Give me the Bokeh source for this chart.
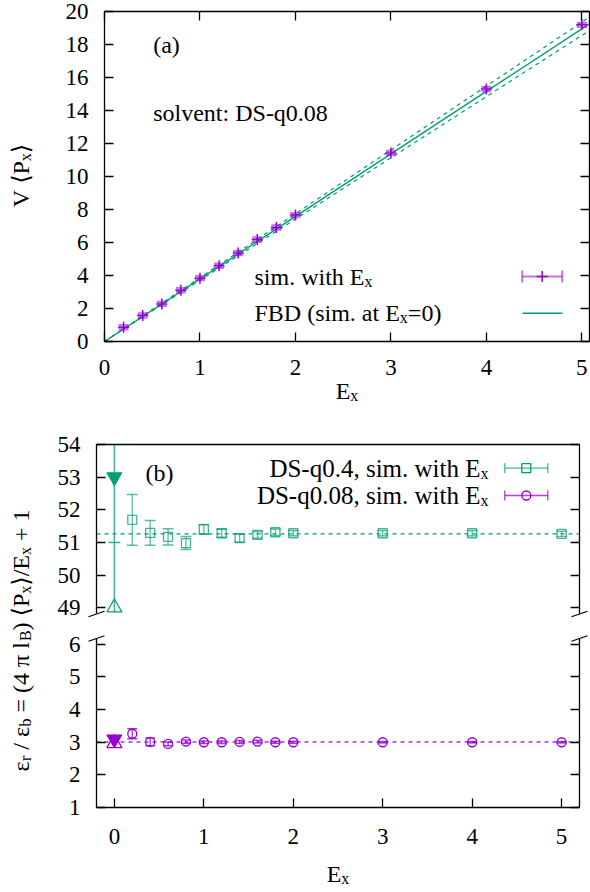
import math
from bokeh.plotting import figure
from bokeh.models import Range1d, LinearAxis, FixedTicker, Label
from bokeh.embed import file_html
from bokeh.resources import INLINE

# ---------------- data ----------------
# panel (a): V <P_x> versus E_x (solvent DS-q0.08)
ex_a = [0.2, 0.4, 0.6, 0.8, 1.0, 1.2, 1.4, 1.6, 1.8, 2.0, 3.0, 4.0, 5.0]
vpx_a = [0.87, 1.58, 2.28, 3.11, 3.84, 4.59, 5.37, 6.18, 6.91, 7.66, 11.42, 15.30, 19.19]
vpx_err_a = [0.12, 0.12, 0.12, 0.12, 0.12, 0.12, 0.12, 0.12, 0.12, 0.12, 0.12, 0.12, 0.12]
# FBD prediction (sim. at E_x = 0): straight line through the origin and its band
fbd_x = [0.0, 5.08]
fbd_mid = [0.0, 19.25]
fbd_lo = [0.0, 18.85]
fbd_hi = [0.0, 19.66]

# panel (b): eps_r / eps_b
ex_b = [0.2, 0.4, 0.6, 0.8, 1.0, 1.2, 1.4, 1.6, 1.8, 2.0, 3.0, 4.0, 5.0]
eps_q04 = [51.69, 51.29, 51.17, 50.98, 51.40, 51.28, 51.13, 51.23, 51.31, 51.28, 51.28, 51.28, 51.26]
eps_q04_err = [0.78, 0.38, 0.25, 0.20, 0.15, 0.12, 0.12, 0.10, 0.10, 0.08, 0.08, 0.08, 0.08]
eps_q008 = [3.26, 3.01, 2.95, 3.02, 3.00, 3.00, 3.01, 3.02, 3.00, 3.00, 3.00, 3.00, 3.00]
eps_q008_err = [0.15, 0.12, 0.06, 0.05, 0.04, 0.04, 0.04, 0.04, 0.03, 0.03, 0.02, 0.02, 0.02]
# E_x = 0 estimates (visible extent of the bars)
ex0 = [0.0]
eps0_q04 = [51.0]
eps0_q04_lo = [48.85]
eps0_q04_hi = [54.0]
eps0_q04_up = [53.0]
eps0_q04_dn = [49.0]
eps0_q008 = [3.03]
eps0_q008_lo = [2.97]
eps0_q008_hi = [3.09]
eps0_q008_up = [3.09]
eps0_q008_dn = [2.97]
# horizontal reference lines
ref_x_b = [-0.2, 5.2]
ref_q04 = [51.26, 51.26]
ref_q008 = [3.01, 3.01]

x_ticks_a = [0, 1, 2, 3, 4, 5]
y_ticks_a = [0, 2, 4, 6, 8, 10, 12, 14, 16, 18, 20]
x_ticks_b = [0, 1, 2, 3, 4, 5]
y_ticks_b_hi = [49, 50, 51, 52, 53, 54]
y_ticks_b_lo = [1, 2, 3, 4, 5, 6]

# axis limits of the panels
XA = (0.0, 5.08)
YA = (0.0, 20.0)
XB = (-0.2, 5.2)
YB = (48.82, 54.0)
YC = (1.0, 6.18)

# ---------------- style / layout ----------------
PURPLE = "#9400D3"
GREEN = "#009E73"
FONT = "Liberation Serif"
BRACKET_FONT = "DejaVu Sans"
FS = 24
SFS = 16
TICK_FS = "23px"
SUB_SHIFT = 5
BASE_FIX = -6          # correction of the rendered baseline position
W, H = 590, 892

# pixel boxes of the panels (left, right, top, bottom)
BOX_A = (104, 589, 11, 341)
BOX_B = (96, 579, 444, 613)
BOX_C = (96, 579, 638, 807)

TW = {' ': 250, '(': 333, ')': 333, '+': 564, ',': 250, '-': 333, '.': 250, '/': 278,
      ':': 278, '=': 564, 'B': 667, 'D': 722, 'E': 611, 'F': 556, 'P': 556, 'S': 556,
      'V': 722, 'a': 444, 'b': 500, 'e': 444, 'h': 500, 'i': 278, 'l': 278, 'm': 778,
      'n': 500, 'o': 500, 'q': 500, 'r': 333, 's': 389, 't': 278, 'v': 500, 'w': 722,
      'x': 500, 'ε': 439, 'π': 549, '⟨': 390, '⟩': 390}


def tw(s, size):
    return sum(TW.get(c, 500) for c in s) * size / 1000.0


def xr_for(box, lim):
    L, R = box[0], box[1]
    s = (R - L) / (lim[1] - lim[0])
    return Range1d(lim[0] - L / s, lim[1] + (W - R) / s)


def yr_for(box, lim):
    T, B = box[2], box[3]
    s = (B - T) / (lim[1] - lim[0])
    return Range1d(lim[0] - (H - B) / s, lim[1] + T / s)


# one canvas; default ranges are page pixels (y grows downward)
p = figure(width=W, height=H, x_range=Range1d(0, W), y_range=Range1d(H, 0),
           output_backend="svg", toolbar_location=None,
           x_axis_location=None, y_axis_location=None,
           min_border_left=0, min_border_right=0, min_border_top=0, min_border_bottom=0)
p.outline_line_color = None
p.grid.visible = False
p.background_fill_color = "white"
p.border_fill_color = "white"
p.extra_x_ranges = {"ax": xr_for(BOX_A, XA), "bx": xr_for(BOX_B, XB)}
p.extra_y_ranges = {"ay": yr_for(BOX_A, YA), "by": yr_for(BOX_B, YB), "cy": yr_for(BOX_C, YC)}


def add_axis(side, xname, yname, loc, bounds, ticks, labels=True, standoff=16, tick_len=9):
    ax = LinearAxis(ticker=FixedTicker(ticks=ticks, minor_ticks=[]),
                    x_range_name=xname, y_range_name=yname,
                    fixed_location=loc, bounds=bounds)
    ax.axis_line_color = "black"
    ax.axis_line_width = 1.3
    ax.major_tick_line_color = "black"
    ax.major_tick_line_width = 1.3
    ax.major_tick_in = tick_len
    ax.major_tick_out = 0
    ax.minor_tick_line_color = None
    ax.major_label_text_font = FONT
    if labels:
        ax.major_label_text_color = "black"
        ax.major_label_text_font_size = TICK_FS
        ax.major_label_standoff = standoff
    else:
        ax.major_label_text_color = None
        ax.major_label_text_font_size = "0px"
        ax.major_label_standoff = 0
    p.add_layout(ax, side)
    return ax


def rich(x, y, pieces, angle=0.0, align="left", fs=FS, sfs=SFS):
    widths = [tw(t, sfs if k == "s" else fs) for t, k in pieces]
    total = sum(widths)
    pos = {"left": 0.0, "right": -total, "center": -total / 2.0}[align]
    for (t, kind), w in zip(pieces, widths):
        size = sfs if kind == "s" else fs
        font = BRACKET_FONT if kind == "b" else FONT
        shift = SUB_SHIFT if kind == "s" else 0
        stripped = t.lstrip(" ")
        lead = tw(t[:len(t) - len(stripped)], size)
        if angle == 0.0:
            px, py = x + pos + lead, y + shift + BASE_FIX
        else:
            px, py = x + shift + BASE_FIX, y - pos - lead
        p.add_layout(Label(x=px, y=py, text=stripped, text_font=font,
                           text_font_size=f"{size}px", text_color="black",
                           text_baseline="alphabetic", text_align="left",
                           angle=angle))
        pos += w


def errorbars(xs, ys, errs, xname, yname, color, alpha, cap, lw, cap_lw):
    lo = [v - e for v, e in zip(ys, errs)]
    hi = [v + e for v, e in zip(ys, errs)]
    p.segment(x0=xs, y0=lo, x1=xs, y1=hi, line_color=color, line_alpha=alpha,
              line_width=lw, x_range_name=xname, y_range_name=yname)
    p.scatter(xs + xs, lo + hi, marker="dash", size=cap, line_color=color,
              line_alpha=alpha, line_width=cap_lw, x_range_name=xname, y_range_name=yname)


# ================= panel (a) =================
add_axis("below", "ax", "ay", YA[0], XA, x_ticks_a, labels=True, standoff=18)
add_axis("left", "ax", "ay", XA[0], YA, y_ticks_a, labels=True, standoff=16)
add_axis("above", "ax", "ay", YA[1], XA, x_ticks_a, labels=False)
add_axis("right", "ax", "ay", XA[1], YA, y_ticks_a, labels=False)

p.line(fbd_x, fbd_hi, line_color=GREEN, line_width=1.2, line_dash="4 4", x_range_name="ax", y_range_name="ay")
p.line(fbd_x, fbd_lo, line_color=GREEN, line_width=1.2, line_dash="4 4", x_range_name="ax", y_range_name="ay")
p.line(fbd_x, fbd_mid, line_color=GREEN, line_width=1.4, x_range_name="ax", y_range_name="ay")
errorbars(ex_a, vpx_a, vpx_err_a, "ax", "ay", PURPLE, 0.55, 10, 1.5, 2.5)
p.scatter(ex_a, vpx_a, marker="cross", size=11, line_color=PURPLE, line_width=1.5,
          x_range_name="ax", y_range_name="ay")

rich(152.7, 50, [("(a)", "n")])
rich(152.7, 118.5, [("solvent: DS-q0.08", "n")])
rich(254, 282, [("sim. with E", "n"), ("x", "s")])
rich(254, 318, [("FBD (sim. at E", "n"), ("x", "s"), ("=0)", "n")])
rich(346.5, 396, [("E", "n"), ("x", "s")], align="center")
rich(26, 175, [("V ", "n"), ("⟨", "b"), ("P", "n"), ("x", "s"), ("⟩", "b")],
     angle=math.pi / 2, align="center")

# key samples (a)
ly1, ly2 = 276.0, 312.7
p.segment(x0=[521.7], y0=[ly1], x1=[561.7], y1=[ly1], line_color=PURPLE, line_alpha=0.55, line_width=2)
p.segment(x0=[521.7, 561.7], y0=[ly1 - 6, ly1 - 6], x1=[521.7, 561.7], y1=[ly1 + 6, ly1 + 6],
          line_color=PURPLE, line_alpha=0.55, line_width=2)
p.scatter([541.7], [ly1], marker="cross", size=11, line_color=PURPLE, line_width=1.5)
p.segment(x0=[522], y0=[ly2], x1=[562], y1=[ly2], line_color=GREEN, line_width=1.4)

# ================= panel (b), upper part =================
add_axis("left", "bx", "by", XB[0], YB, y_ticks_b_hi, labels=True, standoff=16)
add_axis("right", "bx", "by", XB[1], YB, y_ticks_b_hi, labels=False)
add_axis("above", "bx", "by", YB[1], XB, [], labels=False)

p.line(ref_x_b, ref_q04, line_color=GREEN, line_width=1.2, line_dash="4 4",
       x_range_name="bx", y_range_name="by")
p.segment(x0=ex0, y0=eps0_q04_lo, x1=ex0, y1=eps0_q04_hi, line_color=GREEN, line_alpha=0.75,
          line_width=1.5, x_range_name="bx", y_range_name="by")
p.scatter(ex0, eps0_q04, marker="dash", size=12, line_color=GREEN, line_width=1.5, line_alpha=0.8,
          x_range_name="bx", y_range_name="by")
p.scatter(ex0, eps0_q04_up, marker="inverted_triangle", size=15, fill_color=GREEN, line_color=GREEN,
          x_range_name="bx", y_range_name="by")
p.scatter(ex0, eps0_q04_dn, marker="triangle", size=15, fill_color=None, line_color=GREEN,
          line_width=1.3, x_range_name="bx", y_range_name="by")
errorbars(ex_b, eps_q04, eps_q04_err, "bx", "by", GREEN, 0.65, 11, 1.3, 1.5)
p.scatter(ex_b, eps_q04, marker="square", size=9, fill_color=None, line_color=GREEN,
          line_alpha=0.75, line_width=1.3, x_range_name="bx", y_range_name="by")

rich(145, 478, [("(b)", "n")])
rich(488, 474, [("DS-q0.4, sim. with E", "n"), ("x", "s")], align="right", fs=25)
rich(488, 500.7, [("DS-q0.08, sim. with E", "n"), ("x", "s")], align="right", fs=25)

for yy, col, mk in [(467.7, GREEN, "square"), (495.0, PURPLE, "circle")]:
    p.segment(x0=[504.3], y0=[yy], x1=[547.3], y1=[yy], line_color=col, line_alpha=0.75, line_width=1.3)
    p.segment(x0=[504.3, 547.3], y0=[yy - 5, yy - 5], x1=[504.3, 547.3], y1=[yy + 5, yy + 5],
              line_color=col, line_alpha=0.75, line_width=1.3)
    p.scatter([525.8], [yy], marker=mk, size=9, fill_color=None, line_color=col, line_width=1.3)

# ================= panel (b), lower part =================
add_axis("left", "bx", "cy", XB[0], YC, y_ticks_b_lo, labels=True, standoff=16)
add_axis("right", "bx", "cy", XB[1], YC, y_ticks_b_lo, labels=False)
add_axis("below", "bx", "cy", YC[0], XB, x_ticks_b, labels=True, standoff=21)

p.line(ref_x_b, ref_q008, line_color=PURPLE, line_width=1.5, line_dash="4 4", line_alpha=0.8,
       x_range_name="bx", y_range_name="cy")
p.segment(x0=ex0, y0=eps0_q008_lo, x1=ex0, y1=eps0_q008_hi, line_color=PURPLE, line_width=1.5,
          x_range_name="bx", y_range_name="cy")
p.scatter(ex0, eps0_q008_up, marker="inverted_triangle", size=15, fill_color=PURPLE,
          line_color=PURPLE, x_range_name="bx", y_range_name="cy")
p.scatter(ex0, eps0_q008_dn, marker="triangle", size=15, fill_color=None, line_color=PURPLE,
          line_width=1.3, x_range_name="bx", y_range_name="cy")
errorbars(ex_b, eps_q008, eps_q008_err, "bx", "cy", PURPLE, 0.8, 10, 1.3, 1.5)
p.scatter(ex_b, eps_q008, marker="circle", size=9, fill_color=None, line_color=PURPLE,
          line_width=1.3, x_range_name="bx", y_range_name="cy")

rich(337.5, 879, [("E", "n"), ("x", "s")], align="center")

# axis break marks
for cx, cy in [(BOX_B[0], BOX_B[3] + 0.5), (BOX_B[1], BOX_B[3] + 0.5),
               (BOX_C[0], BOX_C[2]), (BOX_C[1], BOX_C[2])]:
    p.segment(x0=[cx - 8], y0=[cy + 2.7], x1=[cx + 8], y1=[cy - 2.7], line_color="black", line_width=1.2)

# shared y title of panel (b)
rich(26, 640,
     [("ε", "n"), ("r", "s"), (" / ε", "n"), ("b", "s"), (" = (4 π l", "n"), ("B", "s"),
      (") ", "n"), ("⟨", "b"), ("P", "n"), ("x", "s"), ("⟩", "b"), ("/E", "n"), ("x", "s"),
      (" + 1", "n")],
     angle=math.pi / 2, align="center")

open("out.html", "w").write(file_html(p, INLINE))
